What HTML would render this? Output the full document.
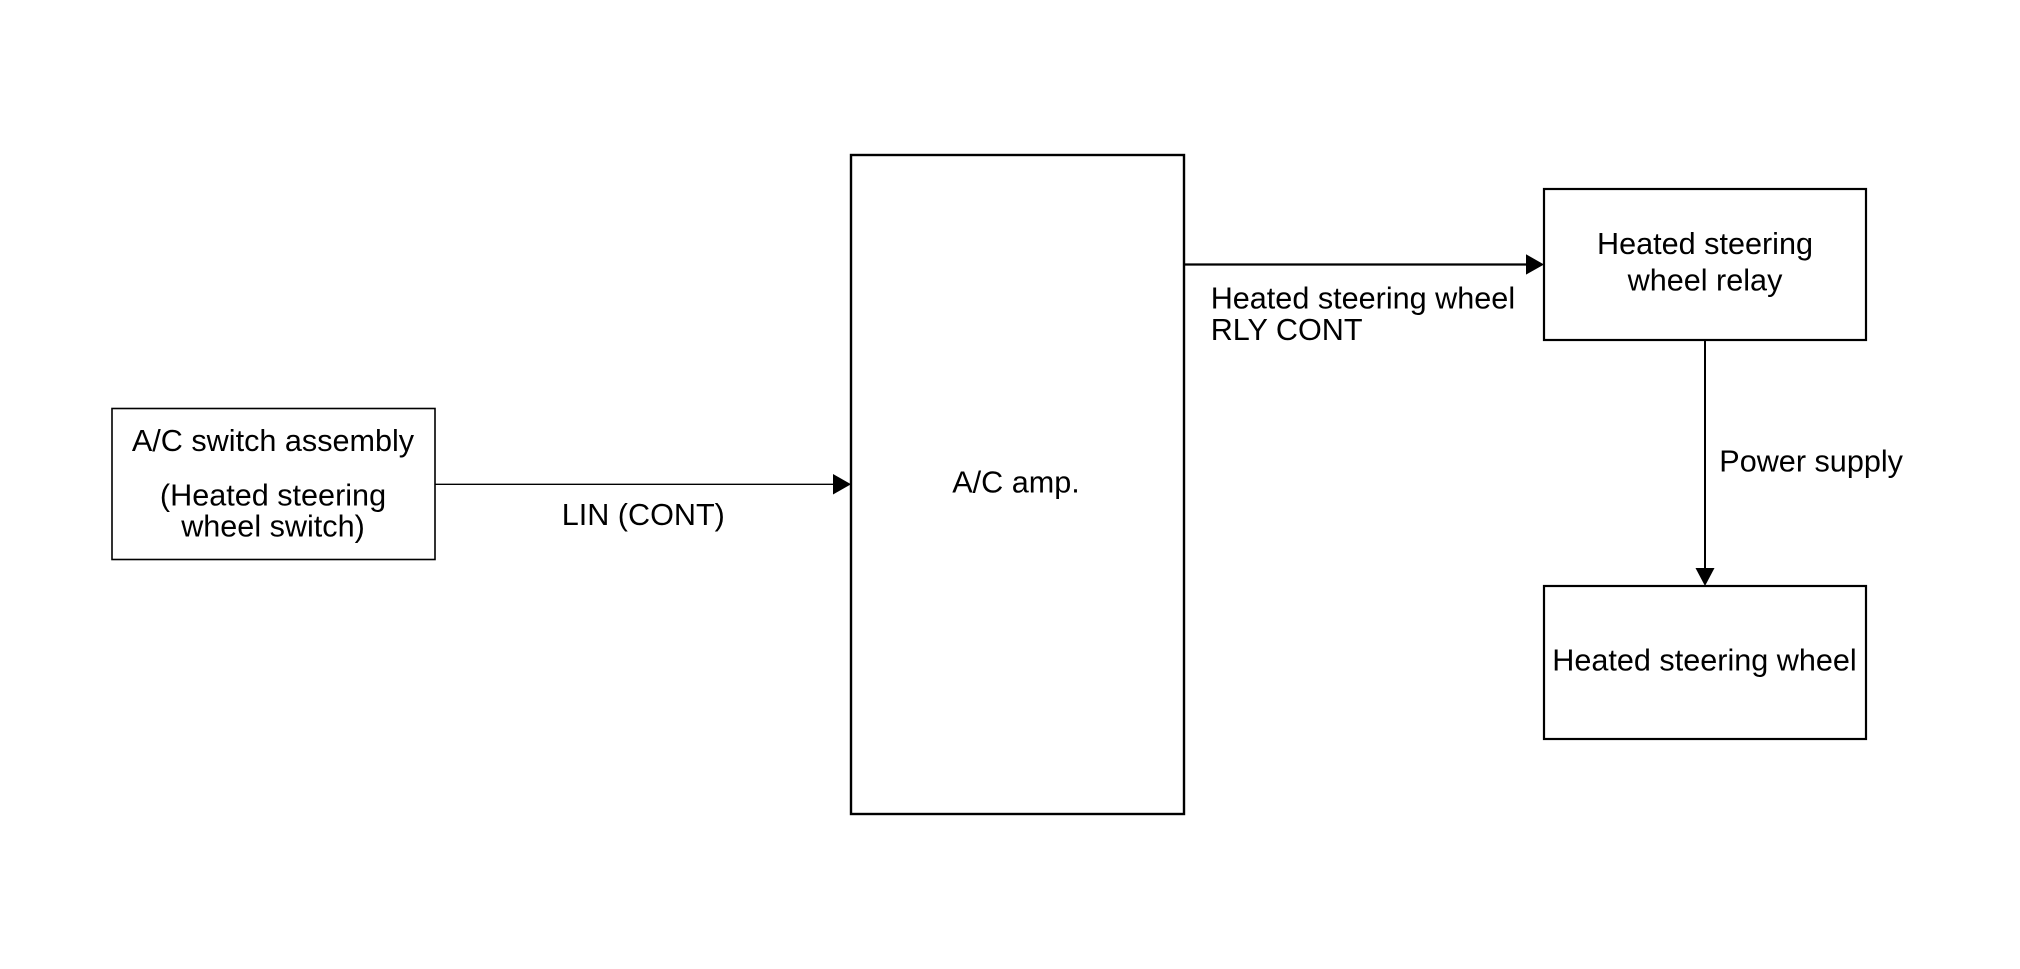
<!DOCTYPE html>
<html>
<head>
<meta charset="utf-8">
<style>
  html, body { margin: 0; padding: 0; background: #ffffff; }
  body { width: 2020px; height: 969px; overflow: hidden; }
  svg { display: block; }
  text { font-family: "Liberation Sans", Arial, sans-serif; font-size: 30.6px; fill: #000; }
</style>
</head>
<body>
<svg width="2020" height="969" viewBox="0 0 2020 969" xmlns="http://www.w3.org/2000/svg">
  <rect x="0" y="0" width="2020" height="969" fill="#ffffff"/>

  <!-- A/C switch assembly box -->
  <rect x="112" y="408.5" width="323" height="151" fill="none" stroke="#000" stroke-width="1.6"/>
  <text x="273" y="451" text-anchor="middle">A/C switch assembly</text>
  <text x="273" y="505.5" text-anchor="middle">(Heated steering</text>
  <text x="273" y="536.5" text-anchor="middle">wheel switch)</text>

  <!-- LIN arrow -->
  <line x1="435" y1="484.3" x2="834" y2="484.3" stroke="#000" stroke-width="1.3"/>
  <polygon points="833,474 851,484.3 833,494.5" fill="#000"/>
  <text x="561.7" y="525">LIN (CONT)</text>

  <!-- A/C amp box -->
  <rect x="851" y="155" width="333" height="659" fill="none" stroke="#000" stroke-width="2.4"/>
  <text x="1016" y="492.7" text-anchor="middle">A/C amp.</text>

  <!-- RLY CONT arrow -->
  <line x1="1184" y1="264.5" x2="1527" y2="264.5" stroke="#000" stroke-width="2.2"/>
  <polygon points="1526,254.3 1544,264.5 1526,274.6" fill="#000"/>
  <text x="1210.7" y="308.3">Heated steering wheel</text>
  <text x="1210.7" y="340">RLY CONT</text>

  <!-- Relay box -->
  <rect x="1544" y="189" width="322" height="151" fill="none" stroke="#000" stroke-width="2.2"/>
  <text x="1705" y="254" text-anchor="middle">Heated steering</text>
  <text x="1705" y="290.7" text-anchor="middle">wheel relay</text>

  <!-- Power supply arrow -->
  <line x1="1705" y1="340" x2="1705" y2="569" stroke="#000" stroke-width="2"/>
  <polygon points="1695.5,568 1705,586 1714.5,568" fill="#000"/>
  <text x="1719.3" y="471.7">Power supply</text>

  <!-- Heated steering wheel box -->
  <rect x="1544" y="586" width="322" height="153" fill="none" stroke="#000" stroke-width="2.2"/>
  <text x="1704.5" y="670.7" text-anchor="middle">Heated steering wheel</text>
</svg>
</body>
</html>
